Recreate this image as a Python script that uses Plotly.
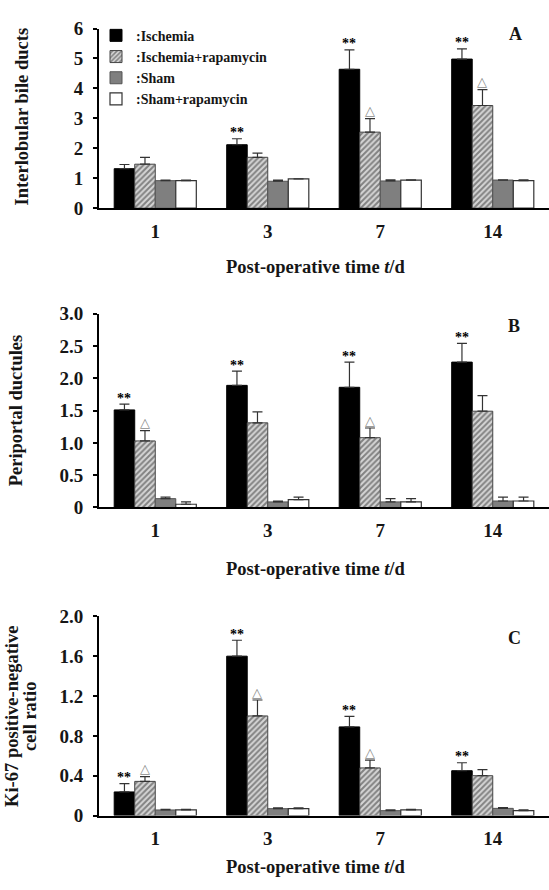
import plotly.graph_objects as go

# ---------------- data ----------------
days = ["1", "3", "7", "14"]
series_names = [":Ischemia", ":Ischemia+rapamycin", ":Sham", ":Sham+rapamycin"]

# Panel A: Interlobular bile ducts (mean, mean+SD)
a_isch = [1.32, 2.12, 4.64, 4.98]
a_isch_top = [1.46, 2.32, 5.29, 5.32]
a_isch_rapa = [1.47, 1.70, 2.54, 3.43]
a_isch_rapa_top = [1.70, 1.84, 2.99, 3.96]
a_sham = [0.92, 0.90, 0.91, 0.94]
a_sham_top = [0.94, 0.94, 0.95, 0.95]
a_sham_rapa = [0.92, 0.98, 0.94, 0.92]
a_sham_rapa_top = [0.94, 0.98, 0.95, 0.95]
a_stars = [False, True, True, True]
a_tri = [False, False, True, True]

# Panel B: Periportal ductules
b_isch = [1.51, 1.89, 1.86, 2.25]
b_isch_top = [1.60, 2.11, 2.25, 2.54]
b_isch_rapa = [1.03, 1.31, 1.08, 1.49]
b_isch_rapa_top = [1.19, 1.48, 1.23, 1.73]
b_sham = [0.137, 0.086, 0.086, 0.10]
b_sham_top = [0.16, 0.10, 0.137, 0.16]
b_sham_rapa = [0.05, 0.12, 0.086, 0.10]
b_sham_rapa_top = [0.086, 0.16, 0.137, 0.16]
b_stars = [True, True, True, True]
b_tri = [True, False, True, False]

# Panel C: Ki-67 positive-negative cell ratio
c_isch = [0.237, 1.60, 0.89, 0.45]
c_isch_top = [0.32, 1.76, 0.995, 0.53]
c_isch_rapa = [0.343, 1.00, 0.478, 0.40]
c_isch_rapa_top = [0.39, 1.16, 0.557, 0.46]
c_sham = [0.056, 0.069, 0.049, 0.072]
c_sham_top = [0.063, 0.076, 0.056, 0.079]
c_sham_rapa = [0.056, 0.069, 0.056, 0.049]
c_sham_rapa_top = [0.063, 0.076, 0.063, 0.056]
c_stars = [True, True, True, True]
c_tri = [True, True, True, False]

a_ticks = [0, 1, 2, 3, 4, 5, 6]
a_ticktext = ["0", "1", "2", "3", "4", "5", "6"]
b_ticks = [0, 0.5, 1.0, 1.5, 2.0, 2.5, 3.0]
b_ticktext = ["0", "0.5", "1.0", "1.5", "2.0", "2.5", "3.0"]
c_ticks = [0, 0.4, 0.8, 1.2, 1.6, 2.0]
c_ticktext = ["0", "0.4", "0.8", "1.2", "1.6", "2.0"]

panel_letters = ["A", "B", "C"]
y_titles = [["Interlobular bile ducts"], ["Periportal ductules"],
            ["Ki-67 positive-negative", "cell ratio"]]
x_title = "Post-operative time <i>t</i>/d"

# ---------------- style ----------------
FONT = "Liberation Serif"
TXT = "#161616"
BARGAP = 0.27
W, H = 549, 890

styles = [
    dict(color="#000000", line=dict(color="#000000", width=1)),
    dict(color="#d6d6d6", line=dict(color="#444444", width=1),
         pattern=dict(shape="/", fgcolor="#2e2e2e", bgcolor="#d6d6d6",
                      size=4, solidity=0.5)),
    dict(color="#7f7f7f", line=dict(color="#555555", width=1)),
    dict(color="#ffffff", line=dict(color="#333333", width=1.2)),
]

panels = [
    dict(vals=[a_isch, a_isch_rapa, a_sham, a_sham_rapa],
         tops=[a_isch_top, a_isch_rapa_top, a_sham_top, a_sham_rapa_top],
         stars=a_stars, tri=a_tri, rng=[0, 6], tv=a_ticks, tt=a_ticktext,
         dom=[1 - 203 / H, 1 - 19 / H]),
    dict(vals=[b_isch, b_isch_rapa, b_sham, b_sham_rapa],
         tops=[b_isch_top, b_isch_rapa_top, b_sham_top, b_sham_rapa_top],
         stars=b_stars, tri=b_tri, rng=[0, 3], tv=b_ticks, tt=b_ticktext,
         dom=[1 - 509.5 / H, 1 - 311 / H]),
    dict(vals=[c_isch, c_isch_rapa, c_sham, c_sham_rapa],
         tops=[c_isch_top, c_isch_rapa_top, c_sham_top, c_sham_rapa_top],
         stars=c_stars, tri=c_tri, rng=[0, 2], tv=c_ticks, tt=c_ticktext,
         dom=[1 - 825 / H, 1 - 621 / H]),
]

fig = go.Figure()
xpos = list(range(len(days)))
bw = (1 - BARGAP) / 4
annotations = []

for p, panel in enumerate(panels):
    xa = "x" if p == 0 else f"x{p+1}"
    ya = "y" if p == 0 else f"y{p+1}"
    for k in range(4):
        v = panel["vals"][k]
        t = panel["tops"][k]
        fig.add_trace(go.Bar(
            x=xpos, y=v, name=series_names[k], xaxis=xa, yaxis=ya,
            showlegend=(p == 0), offsetgroup=str(k), legendgroup=str(k),
            marker=styles[k],
            error_y=dict(type="data", symmetric=False,
                         array=[tt - vv for tt, vv in zip(t, v)],
                         arrayminus=[0] * len(v),
                         color="#333333", thickness=1.2, width=5),
        ))
    # significance markers
    for i in range(len(days)):
        if panel["stars"][i]:
            annotations.append(dict(
                x=xpos[i] + (0 - 1.5) * bw, y=panel["tops"][0][i], xref=xa, yref=ya,
                text="<b>**</b>", showarrow=False, xanchor="center",
                yanchor="middle", yshift=6,
                font=dict(family=FONT, size=14, color="#000000")))
        if panel["tri"][i]:
            annotations.append(dict(
                x=xpos[i] + (1 - 1.5) * bw, y=panel["tops"][1][i], xref=xa, yref=ya,
                text="△", showarrow=False, xanchor="center",
                yanchor="middle", yshift=8,
                font=dict(family="DejaVu Sans", size=13, color="#8a8a8a")))

    axis_common = dict(showline=True, linecolor="#000000", linewidth=2,
                       showgrid=False, zeroline=False, mirror=False)
    fig.layout[("xaxis" if p == 0 else f"xaxis{p+1}")] = dict(
        **axis_common, domain=[99 / W, 1.0], anchor=ya, range=[-0.5, 3.5],
        tickvals=xpos, ticktext=days, ticks="", ticklabelstandoff=5,
        tickfont=dict(family=FONT, size=19, color=TXT, weight="bold"))
    fig.layout[("yaxis" if p == 0 else f"yaxis{p+1}")] = dict(
        **axis_common, domain=panel["dom"], anchor=xa, range=panel["rng"],
        tickvals=panel["tv"], ticktext=panel["tt"], ticks="outside",
        ticklen=4, tickwidth=1.5, tickcolor="#000000", ticklabelstandoff=6,
        tickfont=dict(family=FONT, size=19, color=TXT, weight="bold"))

# panel letters, axis titles (pixel positions)
letter_xy = [(515, 25), (514, 324), (514, 643)]
ytitle_x = [[22], [16], [12, 30]]
ytitle_y = [110, 410, 724]
xtitle_y = [263, 573, 878]
for p in range(3):
    lx, ly = letter_xy[p]
    annotations.append(dict(x=lx / W, y=1 - ly / H, xref="paper", yref="paper",
                            xanchor="center", yanchor="middle",
                            text=f"<b>{panel_letters[p]}</b>", showarrow=False,
                            font=dict(family=FONT, size=18, color=TXT)))
    for line, tx in zip(y_titles[p], ytitle_x[p]):
        annotations.append(dict(x=tx / W, y=1 - ytitle_y[p] / H,
                                xref="paper", yref="paper", textangle=-90,
                                xanchor="center", yanchor="middle",
                                text=f"<b>{line}</b>", showarrow=False,
                                font=dict(family=FONT, size=18.5, color=TXT)))
    annotations.append(dict(x=315 / W, y=1 - xtitle_y[p] / H, xref="paper", yref="paper",
                            xanchor="center", yanchor="middle",
                            text=f"<b>{x_title}</b>", showarrow=False,
                            font=dict(family=FONT, size=18.5, color=TXT)))

fig.update_layout(
    width=W, height=H, margin=dict(l=0, r=0, t=0, b=0),
    paper_bgcolor="white", plot_bgcolor="white",
    barmode="group", bargap=BARGAP, bargroupgap=0,
    annotations=annotations,
    legend=dict(x=96 / W, y=1 - 10 / H, xanchor="left", yanchor="top",
                bgcolor="rgba(0,0,0,0)", tracegroupgap=0, itemwidth=30,
                font=dict(family=FONT, size=14, color=TXT, weight="bold")),
)

fig.write_html("out.html", config={"displayModeBar": False},
               post_script="document.body.style.margin='0';document.body.style.overflow='hidden';")
